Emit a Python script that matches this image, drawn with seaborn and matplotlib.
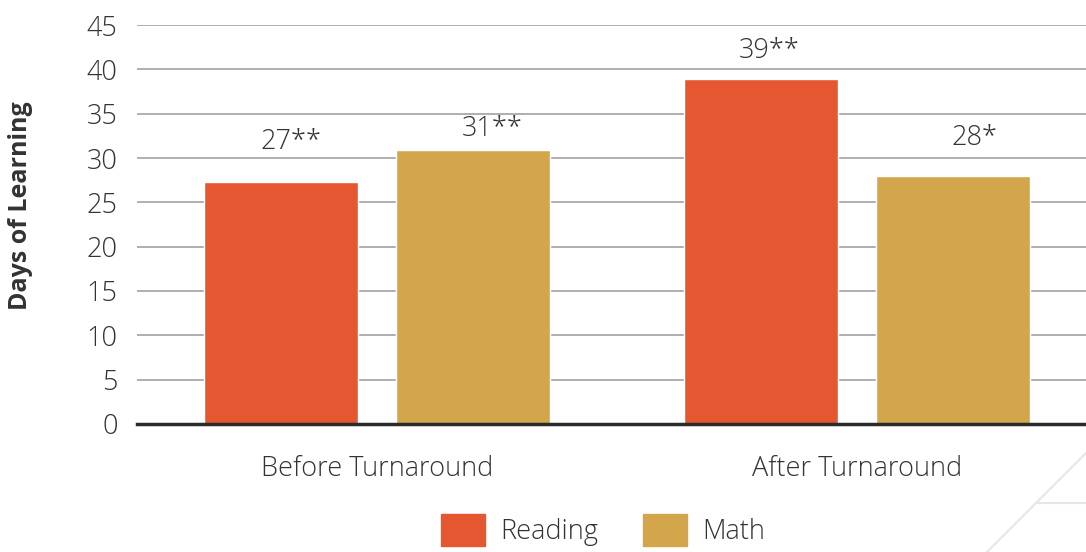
import pandas as pd
import numpy as np
import matplotlib
matplotlib.use("Agg")
import matplotlib.pyplot as plt
import seaborn as sns
from matplotlib.lines import Line2D

periods = ["Before Turnaround", "After Turnaround"]
subjects = ["Reading", "Math"]
reading = [27.3, 38.9]
math = [30.9, 28.0]
labels_reading = ["27**", "39**"]
labels_math = ["31**", "28*"]
yticks = [0, 5, 10, 15, 20, 25, 30, 35, 40, 45]

colors = {"Reading": "#e55730", "Math": "#d4a64c"}
text_c = "#333333"
fs = 19.5

df = pd.DataFrame({
    "period": periods * 2,
    "subject": ["Reading"] * 2 + ["Math"] * 2,
    "days": reading + math,
    "label": labels_reading + labels_math,
})

sns.set_style("white")
plt.rcParams["font.family"] = ["Open Sans", "DejaVu Sans"]

fig = plt.figure(figsize=(10.86, 5.52), dpi=100)
ax = fig.add_axes([0.1262, 0.2319, 0.8738, 0.7228])

sns.barplot(data=df, x="period", y="days", hue="subject", order=periods,
            hue_order=subjects, palette=colors, width=0.8, gap=0.198,
            saturation=1, ax=ax, legend=False, zorder=3)

# label offsets (points) relative to each bar top, as placed in the original
offsets = {"Reading": [(7, 19), (6, 10)], "Math": [(14, 5), (15, 17)]}
for cont, subj in zip(ax.containers, subjects):
    labs = df[df.subject == subj].set_index("period").loc[periods, "label"]
    for bar, lab, off in zip(cont, labs, offsets[subj]):
        ax.annotate(lab, (bar.get_x() + bar.get_width() / 2, bar.get_height()),
                    xytext=off, textcoords="offset points", ha="center",
                    va="bottom", fontsize=fs, color=text_c, fontweight="light")

ax.set_ylim(0, 45)
ax.set_xlim(-0.5, 1.476)
ax.set_yticks(yticks)
ax.yaxis.grid(True, color="#a8a8a8", lw=1.3, zorder=0)
ax.set_axisbelow(True)
for s in ["top", "right", "left"]:
    ax.spines[s].set_visible(False)
ax.spines["bottom"].set_color("#2b2b2b")
ax.spines["bottom"].set_linewidth(2.5)
ax.spines["bottom"].set_zorder(4)
ax.tick_params(axis="both", length=0, labelsize=fs, colors=text_c)
ax.tick_params(axis="y", pad=14)
ax.tick_params(axis="x", pad=22)
for t in ax.get_xticklabels() + ax.get_yticklabels():
    t.set_fontweight("light")
ax.set_xlabel("")
ax.set_ylabel("Days of Learning", fontsize=18, fontweight="bold", color=text_c)
ax.yaxis.set_label_coords(-0.1096, 0.546)

handles = [plt.Rectangle((0, 0), 1, 1, color=colors[s]) for s in subjects]
leg = fig.legend(handles, subjects, loc="center", bbox_to_anchor=(0.555, 0.04), ncol=2,
                 frameon=False, fontsize=fs, handlelength=1.64, handleheight=1.43,
                 handletextpad=0.55, columnspacing=1.65)
for t in leg.get_texts():
    t.set_color(text_c)
    t.set_fontweight("light")

# faint decorative corner lines
fig.add_artist(Line2D([0.9088, 1.0], [0.0, 0.1793], color="#e6e6e6", lw=1.5))
fig.add_artist(Line2D([0.956, 1.0], [0.0888, 0.0888], color="#e6e6e6", lw=1.5))

fig.savefig("out.png", dpi=100)
